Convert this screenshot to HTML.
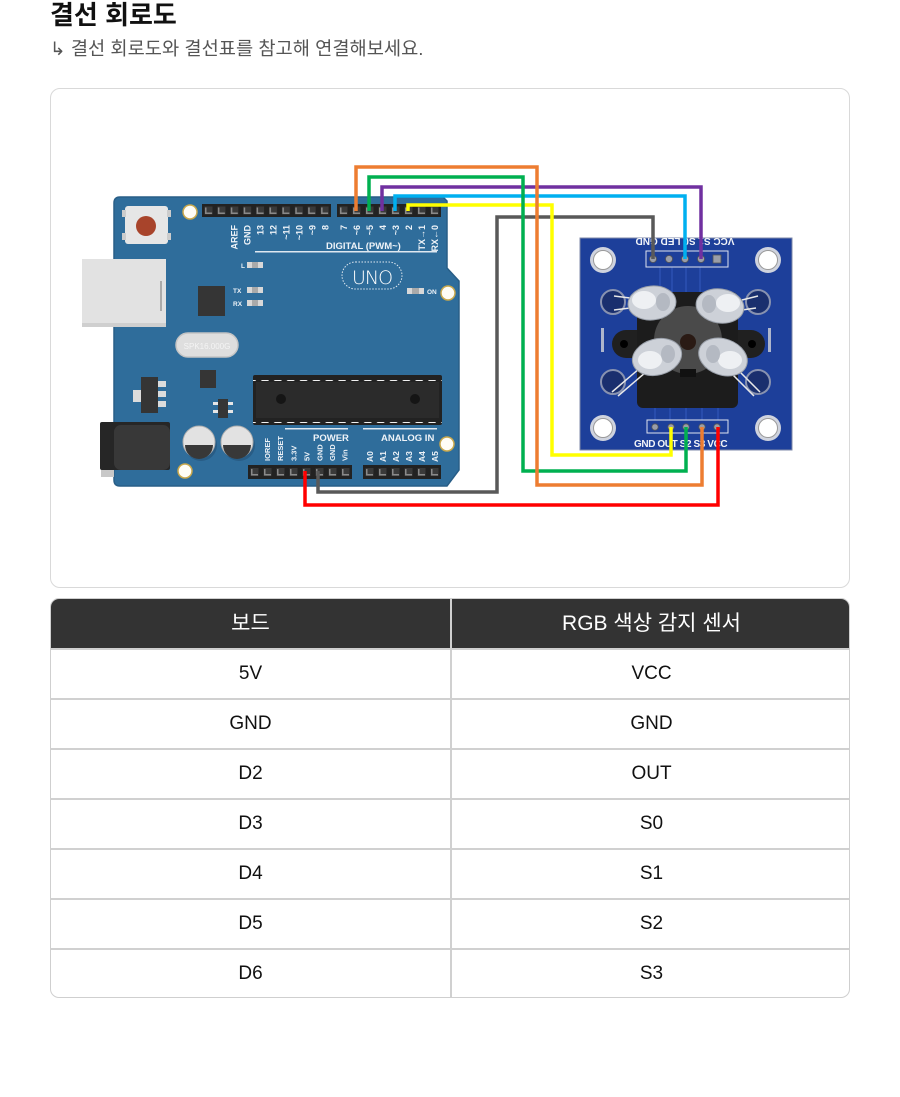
<!DOCTYPE html>
<html><head><meta charset="utf-8">
<style>
html,body{margin:0;padding:0;background:#fff;width:900px;height:1097px;overflow:hidden;position:relative;font-family:"Liberation Sans","Noto Sans CJK KR",sans-serif;}
.title{position:absolute;left:50px;top:2px;font-size:26px;line-height:26px;font-weight:bold;color:#111;font-family:"Liberation Sans","Noto Sans CJK KR",sans-serif;white-space:nowrap;}
.sub{position:absolute;left:50px;top:40px;font-size:18.7px;line-height:18px;color:#555;white-space:nowrap;font-family:"Liberation Sans","Noto Sans CJK KR",sans-serif;}
.box{position:absolute;left:50px;top:88px;width:798px;height:498px;border:1px solid #d9d9d9;border-radius:10px;}
.tbl{position:absolute;left:50px;top:598px;width:798px;height:398px;border:1px solid #cfcfcf;border-radius:9px;overflow:hidden;}
.hd{position:absolute;left:0;top:0;width:800px;height:49px;background:#333;}
.cell{position:absolute;width:399px;text-align:center;white-space:nowrap;font-family:"Liberation Sans","Noto Sans CJK KR",sans-serif;}
.hd .cell{color:#fff;font-size:21px;line-height:49px;top:0;}
.row{position:absolute;left:0;width:800px;height:50px;border-top:2px solid #d0d0d0;box-sizing:border-box;}
.row .cell{color:#111;font-size:19px;line-height:47px;top:0;}
.vd{position:absolute;left:399px;top:0;width:2px;height:400px;background:#d0d0d0;}
</style></head><body>
<div class="title">결선 회로도</div>
<div class="sub">↳ 결선 회로도와 결선표를 참고해 연결해보세요.</div>
<div class="box"></div>

<svg width="900" height="600" style="position:absolute;left:0;top:0" xmlns="http://www.w3.org/2000/svg">
<defs>
<pattern id="p1" x="202" y="204" width="12.9" height="13" patternUnits="userSpaceOnUse">
<rect x="2.5" y="2.5" width="8" height="8" fill="#3a3a3a"/><path d="M3,10 V3.5 H4.5 V8.5 H10 V10 Z" fill="#8a8a8a"/></pattern>
<pattern id="p2" x="337" y="204" width="13" height="13" patternUnits="userSpaceOnUse">
<rect x="2.5" y="2.5" width="8" height="8" fill="#3a3a3a"/><path d="M3,10 V3.5 H4.5 V8.5 H10 V10 Z" fill="#8a8a8a"/></pattern>
<pattern id="p3" x="248" y="465" width="13" height="14" patternUnits="userSpaceOnUse">
<rect x="2.5" y="3" width="8" height="8" fill="#3a3a3a"/><path d="M3,10.5 V4 H4.5 V9 H10 V10.5 Z" fill="#8a8a8a"/></pattern>
<pattern id="p4" x="363" y="465" width="13" height="14" patternUnits="userSpaceOnUse">
<rect x="2.5" y="3" width="8" height="8" fill="#3a3a3a"/><path d="M3,10.5 V4 H4.5 V9 H10 V10.5 Z" fill="#8a8a8a"/></pattern>
<pattern id="pad" x="259" y="0" width="12.85" height="10" patternUnits="userSpaceOnUse">
<rect x="2" y="0" width="8" height="4" rx="1.5" fill="#f2f2f2"/></pattern>
</defs>

<!-- USB ears -->
<circle cx="131" cy="257" r="8" fill="#d5d5d5"/>
<circle cx="131" cy="331" r="8" fill="#d5d5d5"/>
<!-- Board -->
<path d="M120,197 L443,197 L447,201 L447,268 L459,281 L459,470 L447,486 L120,486 Q114,486 114,480 L114,203 Q114,197 120,197 Z" fill="#2f6d9b" stroke="#285e87" stroke-width="1.5"/>
<!-- USB -->
<rect x="82" y="259" width="84" height="68" fill="#e2e2e2"/>
<rect x="82" y="323" width="84" height="4" fill="#cfcfcf"/>
<rect x="160" y="281" width="2" height="30" fill="#aaa"/>
<!-- reset -->
<rect x="125" y="206" width="43" height="38" rx="3" fill="#e6e6e6"/>
<rect x="122" y="210" width="4" height="7" fill="#ccc"/><rect x="122" y="233" width="4" height="7" fill="#ccc"/>
<rect x="167" y="210" width="4" height="7" fill="#ccc"/><rect x="167" y="233" width="4" height="7" fill="#ccc"/>
<circle cx="146" cy="226" r="10" fill="#a8442b"/>
<!-- holes -->
<g fill="#fffdf6" stroke="#c9a84c" stroke-width="1.5">
<circle cx="190" cy="212" r="7"/><circle cx="448" cy="293" r="7"/><circle cx="447" cy="444" r="7"/><circle cx="185" cy="471" r="7"/>
</g>
<!-- top headers -->
<rect x="202" y="204" width="129" height="13" fill="#222"/>
<rect x="202" y="204" width="129" height="13" fill="url(#p1)"/>
<rect x="337" y="204" width="104" height="13" fill="#222"/>
<rect x="337" y="204" width="104" height="13" fill="url(#p2)"/>
<!-- top labels -->
<g fill="#eef3f8" font-family="Liberation Sans, sans-serif" font-weight="bold" font-size="9" text-anchor="end">
<text transform="translate(237.5,225) rotate(-90)">AREF</text>
<text transform="translate(250.5,225) rotate(-90)">GND</text>
<text transform="translate(263.5,225) rotate(-90)">13</text>
<text transform="translate(276.5,225) rotate(-90)">12</text>
<text transform="translate(289.5,225) rotate(-90)">~11</text>
<text transform="translate(302.5,225) rotate(-90)">~10</text>
<text transform="translate(315.5,225) rotate(-90)">~9</text>
<text transform="translate(328.5,225) rotate(-90)">8</text>
<text transform="translate(347,225) rotate(-90)">7</text>
<text transform="translate(360,225) rotate(-90)">~6</text>
<text transform="translate(373,225) rotate(-90)">~5</text>
<text transform="translate(386,225) rotate(-90)">4</text>
<text transform="translate(399,225) rotate(-90)">~3</text>
<text transform="translate(412,225) rotate(-90)">2</text>
<text transform="translate(425,225) rotate(-90)">TX→1</text>
<text transform="translate(438,225) rotate(-90)">RX←0</text>
</g>
<text x="326" y="249" fill="#eef3f8" font-family="Liberation Sans, sans-serif" font-weight="bold" font-size="9.5">DIGITAL (PWM~)</text>
<rect x="255" y="251" width="182" height="1.5" fill="#dfe8f0"/>
<!-- LEDs -->
<g fill="#eef3f8" font-family="Liberation Sans, sans-serif" font-weight="bold" font-size="6.5">
<text x="241" y="268">L</text><text x="233" y="293">TX</text><text x="233" y="306">RX</text><text x="427" y="294">ON</text>
</g>
<g fill="#d8d8d8"><rect x="247" y="262" width="16" height="6"/><rect x="247" y="287" width="16" height="6"/><rect x="247" y="300" width="16" height="6"/><rect x="407" y="288" width="17" height="6"/></g>
<g fill="#aaa"><rect x="252" y="262" width="6" height="6"/><rect x="252" y="287" width="6" height="6"/><rect x="252" y="300" width="6" height="6"/><rect x="412" y="288" width="7" height="6"/></g>
<!-- UNO -->
<rect x="342" y="262" width="60" height="27" rx="13.5" fill="none" stroke="#dfe8f0" stroke-width="1" stroke-dasharray="1.5 1.5"/>
<text x="372" y="284" text-anchor="middle" fill="#fff" font-family="DejaVu Sans, Liberation Sans, sans-serif" font-weight="200" font-size="19" letter-spacing="-1">UNO</text>
<!-- chip -->
<rect x="198" y="286" width="27" height="30" fill="#353535"/>
<!-- crystal -->
<rect x="176" y="333" width="62" height="24" rx="12" fill="#dedede" stroke="#c4c4c4" stroke-width="1.5"/>
<text x="207" y="349" text-anchor="middle" fill="#f4f4f4" font-family="Liberation Sans, sans-serif" font-size="8">SPK16.000G</text>
<!-- small parts -->
<rect x="200" y="370" width="16" height="18" fill="#353535"/>
<rect x="133" y="390" width="9" height="12" fill="#dcdcdc"/>
<rect x="141" y="377" width="17" height="36" fill="#353535"/>
<g fill="#dcdcdc"><rect x="158" y="381" width="8" height="6"/><rect x="158" y="391" width="8" height="6"/><rect x="158" y="401" width="8" height="6"/></g>
<rect x="218" y="399" width="10" height="19" fill="#353535"/>
<g fill="#e6e6e6"><rect x="213" y="402" width="5" height="3"/><rect x="213" y="410" width="5" height="3"/><rect x="228" y="402" width="5" height="3"/><rect x="228" y="410" width="5" height="3"/></g>
<!-- IC -->
<rect x="253" y="375" width="189" height="50" rx="2" fill="#222"/>
<rect x="256" y="382" width="183" height="36" fill="#2b2b2b"/>
<rect x="253" y="377" width="189" height="4" fill="url(#pad)"/>
<g transform="translate(0,42)"><rect x="253" y="377" width="189" height="4" fill="url(#pad)"/></g>
<circle cx="281" cy="399" r="5" fill="#151515"/><circle cx="415" cy="399" r="5" fill="#151515"/>
<!-- jack -->
<rect x="101" y="466" width="13" height="11" fill="#c8c8c8"/>
<rect x="100" y="422" width="70" height="48" rx="2" fill="#262626"/>
<rect x="114" y="425" width="56" height="45" rx="7" fill="#383838"/>
<!-- caps -->
<circle cx="201" cy="445" r="16" fill="#285c85"/><circle cx="239" cy="445" r="16" fill="#285c85"/>
<circle cx="199" cy="442" r="16" fill="#e2e2e2" stroke="#b0b0b0" stroke-width="1"/>
<circle cx="237" cy="442" r="16" fill="#e2e2e2" stroke="#b0b0b0" stroke-width="1"/>
<path d="M185,445 A14,14 0 0 0 213,445 Z" fill="#383838"/>
<path d="M223,445 A14,14 0 0 0 251,445 Z" fill="#383838"/>
<!-- power / analog labels -->
<rect x="285" y="428" width="63" height="1.5" fill="#dfe8f0"/>
<rect x="363" y="428" width="74" height="1.5" fill="#dfe8f0"/>
<g fill="#eef3f8" font-family="Liberation Sans, sans-serif" font-weight="bold" font-size="9.5">
<text x="313" y="441">POWER</text><text x="381" y="441">ANALOG IN</text></g>
<g fill="#eef3f8" font-family="Liberation Sans, sans-serif" font-weight="bold" font-size="7.5">
<text transform="translate(270,461) rotate(-90)">IOREF</text>
<text transform="translate(283,461) rotate(-90)">RESET</text>
<text transform="translate(296.5,461) rotate(-90)">3.3V</text>
<text transform="translate(309.5,461) rotate(-90)">5V</text>
<text transform="translate(322.5,461) rotate(-90)">GND</text>
<text transform="translate(335,461) rotate(-90)">GND</text>
<text transform="translate(347.5,461) rotate(-90)">Vin</text>
</g>
<g fill="#eef3f8" font-family="Liberation Sans, sans-serif" font-weight="bold" font-size="8.5">
<text transform="translate(373,462) rotate(-90)">A0</text>
<text transform="translate(386,462) rotate(-90)">A1</text>
<text transform="translate(399,462) rotate(-90)">A2</text>
<text transform="translate(412,462) rotate(-90)">A3</text>
<text transform="translate(425,462) rotate(-90)">A4</text>
<text transform="translate(438,462) rotate(-90)">A5</text>
</g>
<!-- bottom headers -->
<rect x="248" y="465" width="104" height="14" fill="#222"/>
<rect x="248" y="465" width="104" height="14" fill="url(#p3)"/>
<rect x="363" y="465" width="78" height="14" fill="#222"/>
<rect x="363" y="465" width="78" height="14" fill="url(#p4)"/>

<!-- Sensor module -->
<rect x="580" y="238" width="212" height="212" fill="#1d3f9a" stroke="#7f8aa8" stroke-width="1"/>
<g stroke="#2f55b8" stroke-width="1.2" fill="none">
<path d="M660,267 V290"/><path d="M672,267 V292"/><path d="M686,267 V292"/><path d="M700,267 V292"/>
<path d="M655,400 V420"/><path d="M670,404 V420"/><path d="M686,404 V420"/><path d="M702,404 V420"/><path d="M718,404 V420"/>
</g>
<g>
<circle cx="603" cy="260" r="13" fill="#cfd3de"/><circle cx="603" cy="260" r="9.5" fill="#fff" stroke="#9a9a9a" stroke-width="1"/>
<circle cx="768" cy="260" r="13" fill="#cfd3de"/><circle cx="768" cy="260" r="9.5" fill="#fff" stroke="#9a9a9a" stroke-width="1"/>
<circle cx="603" cy="428" r="13" fill="#cfd3de"/><circle cx="603" cy="428" r="9.5" fill="#fff" stroke="#9a9a9a" stroke-width="1"/>
<circle cx="768" cy="428" r="13" fill="#cfd3de"/><circle cx="768" cy="428" r="9.5" fill="#fff" stroke="#9a9a9a" stroke-width="1"/>
</g>
<!-- LED rings -->
<g fill="#1a2f6e" stroke="#8892b0" stroke-width="2">
<circle cx="613" cy="302" r="12"/><circle cx="758" cy="302" r="12"/><circle cx="613" cy="382" r="12"/><circle cx="758" cy="382" r="12"/>
</g>
<!-- side silk -->
<g fill="#aeb6cc"><rect x="601" y="328" width="3" height="24"/><rect x="768" y="328" width="3" height="24"/></g>
<!-- housing -->
<rect x="612" y="330" width="153" height="28" rx="14" fill="#202020"/>
<circle cx="624" cy="344" r="4" fill="#000"/><circle cx="752" cy="344" r="4" fill="#000"/>
<rect x="637" y="292" width="101" height="116" rx="6" fill="#1c1c1c"/>
<circle cx="688" cy="340" r="34" fill="#4a4a4a"/>
<circle cx="688" cy="342" r="8" fill="#2a1a14"/>
<rect x="680" y="369" width="16" height="8" fill="#111"/>
<!-- LED legs -->
<g stroke="#e8e8e8" stroke-width="1.5" fill="none">
<path d="M630,298 L614,296 M630,308 L614,310"/>
<path d="M742,300 L758,296 M742,310 L756,308"/>
<path d="M640,368 L612,392 M646,372 L618,396"/>
<path d="M738,370 L760,392 M732,374 L754,396"/>
</g>
<!-- LEDs -->
<g stroke="#9aa0aa" stroke-width="1">
<ellipse cx="652" cy="303" rx="24" ry="17" fill="#cdd1d8" transform="rotate(-5 652 303)"/>
<ellipse cx="720" cy="306" rx="24" ry="17" fill="#cdd1d8" transform="rotate(8 720 306)"/>
<ellipse cx="657" cy="357" rx="25" ry="18" fill="#cdd1d8" transform="rotate(-15 657 357)"/>
<ellipse cx="723" cy="357" rx="25" ry="18" fill="#cdd1d8" transform="rotate(20 723 357)"/>
</g>
<g fill="#eef0f3">
<ellipse cx="644" cy="300" rx="12" ry="9"/><ellipse cx="728" cy="303" rx="12" ry="9"/>
<ellipse cx="650" cy="360" rx="12" ry="9"/><ellipse cx="730" cy="360" rx="12" ry="9"/>
</g>
<g fill="#b4b9c2">
<ellipse cx="663" cy="302" rx="7" ry="9"/><ellipse cx="709" cy="304" rx="7" ry="9"/>
<ellipse cx="668" cy="354" rx="7" ry="9"/><ellipse cx="713" cy="354" rx="7" ry="9"/>
</g>
<!-- headers -->
<rect x="646" y="251" width="82" height="16" fill="none" stroke="#dfe3ee" stroke-width="1"/>
<g fill="#9a9ea8" stroke="#555" stroke-width="0.8">
<circle cx="653" cy="259" r="3.5"/><circle cx="669" cy="259" r="3.5"/><circle cx="685" cy="259" r="3.5"/><circle cx="701" cy="259" r="3.5"/>
</g>
<rect x="713" y="255" width="8" height="8" fill="#9a9ea8" stroke="#555" stroke-width="0.8"/>
<text transform="rotate(180 685 242)" x="685" y="246" text-anchor="middle" fill="#f2f4f8" font-family="Liberation Sans, sans-serif" font-weight="bold" font-size="10">VCC  S1  S0  LED  GND</text>
<rect x="647" y="420" width="81" height="13" fill="none" stroke="#dfe3ee" stroke-width="1"/>
<g fill="#9a9ea8" stroke="#555" stroke-width="0.8">
<circle cx="655" cy="427" r="3.2"/><circle cx="671" cy="427" r="3.2"/><circle cx="686" cy="427" r="3.2"/><circle cx="702" cy="427" r="3.2"/><circle cx="717" cy="427" r="3.2"/>
</g>
<text x="634" y="447" fill="#f2f4f8" font-family="Liberation Sans, sans-serif" font-weight="bold" font-size="10" letter-spacing="-0.4">GND OUT S2 S3 VCC</text>

<!-- Wires -->
<g fill="none" stroke-width="3.5" stroke-linejoin="miter" stroke-linecap="butt">
<path d="M653,259 V217 H497 V492 H318 V471" stroke="#595959"/>
<path d="M305,471 V505 H718 V427" stroke="#ff0000"/>
<path d="M408,211 V205 H552 V455 H671 V427" stroke="#ffff00"/>
<path d="M395,211 V196 H685 V259" stroke="#00b0f0"/>
<path d="M382,211 V187 H701 V259" stroke="#7030a0"/>
<path d="M369,211 V177 H523 V471 H686 V427" stroke="#00b050"/>
<path d="M356,211 V167 H537 V485 H702 V427" stroke="#ed7d31"/>
</g>
</svg>

<div class="tbl">
<div class="hd"><div class="cell" style="left:0">보드</div><div class="cell" style="left:401px">RGB 색상 감지 센서</div></div>
<div class="row" style="top:49px"><div class="cell" style="left:0">5V</div><div class="cell" style="left:401px">VCC</div></div>
<div class="row" style="top:99px"><div class="cell" style="left:0">GND</div><div class="cell" style="left:401px">GND</div></div>
<div class="row" style="top:149px"><div class="cell" style="left:0">D2</div><div class="cell" style="left:401px">OUT</div></div>
<div class="row" style="top:199px"><div class="cell" style="left:0">D3</div><div class="cell" style="left:401px">S0</div></div>
<div class="row" style="top:249px"><div class="cell" style="left:0">D4</div><div class="cell" style="left:401px">S1</div></div>
<div class="row" style="top:299px"><div class="cell" style="left:0">D5</div><div class="cell" style="left:401px">S2</div></div>
<div class="row" style="top:349px"><div class="cell" style="left:0">D6</div><div class="cell" style="left:401px">S3</div></div>
<div class="vd"></div>
</div>
</body></html>
